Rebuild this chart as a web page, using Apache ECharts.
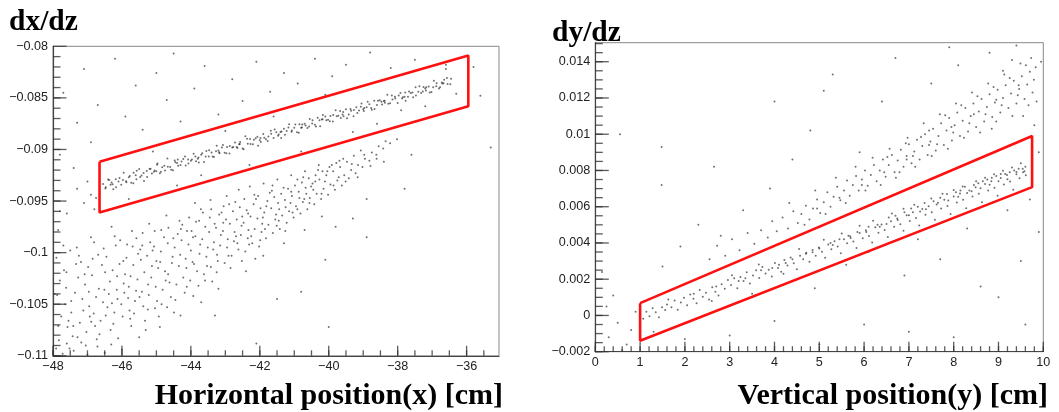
<!DOCTYPE html>
<html><head><meta charset="utf-8">
<script src="https://cdn.jsdelivr.net/npm/echarts@6/dist/echarts.min.js"></script>
<style>html,body{margin:0;padding:0;background:#fff}#c{width:1059px;height:412px}</style>
</head><body><div id="c"></div>
<script>
// ---------- tick labels ----------
const leftXTicks = [-48, -46, -44, -42, -40, -38, -36];
const leftYTicks = [-0.08, -0.085, -0.09, -0.095, -0.1, -0.105, -0.11];
const rightXTicks = [0, 1, 2, 3, 4, 5, 6, 7, 8, 9, 10];
const rightYTicks = [-0.002, 0, 0.002, 0.004, 0.006, 0.008, 0.01, 0.012, 0.014];

// ---------- selection boxes (red) ----------
const leftBox = [[-46.65, -0.0912], [-35.95, -0.0809], [-35.95, -0.0858], [-46.65, -0.0961], [-46.65, -0.0912]];
const rightBox = [[1.0, 0.00068], [9.75, 0.0099], [9.75, 0.00708], [1.0, -0.0014], [1.0, 0.00068]];

// ---------- left panel: dx/dz vs x ----------
const leftBand = [
[-46.55,-0.09335],[-46.48,-0.09378],[-46.40,-0.0929],[-46.33,-0.09343],[-46.25,-0.09385],[-46.18,-0.09288],[-46.10,-0.0931],[-46.02,-0.09342],
[-45.95,-0.09225],[-45.88,-0.09308],[-45.80,-0.0927],[-45.73,-0.09323],[-45.66,-0.09226],[-45.58,-0.09288],[-45.50,-0.0919],[-45.43,-0.09253],
[-45.36,-0.09306],[-45.28,-0.09208],[-45.20,-0.0919],[-45.13,-0.09233],[-45.05,-0.09205],[-44.98,-0.09148],[-44.90,-0.0923],[-44.83,-0.09173],
[-44.75,-0.09205],[-44.68,-0.09088],[-44.60,-0.0917],[-44.52,-0.09202],[-44.45,-0.09125],[-44.38,-0.09098],[-44.30,-0.0915],[-44.22,-0.09092],
[-44.15,-0.09155],[-44.08,-0.09098],[-44.00,-0.0911],[-43.92,-0.09042],[-43.85,-0.09115],[-43.78,-0.09078],[-43.70,-0.0905],[-43.62,-0.09122],
[-43.55,-0.09015],[-43.48,-0.09068],[-43.40,-0.0903],[-43.33,-0.09073],[-43.25,-0.08965],[-43.18,-0.09028],[-43.10,-0.0898],[-43.02,-0.09032],
[-42.95,-0.08975],[-42.88,-0.09038],[-42.80,-0.0898],[-42.72,-0.08932],[-42.65,-0.08985],[-42.58,-0.08948],[-42.50,-0.0899],[-42.42,-0.08872],
[-42.35,-0.08945],[-42.28,-0.08898],[-42.20,-0.0895],[-42.12,-0.08892],[-42.05,-0.08965],[-41.98,-0.08888],[-41.90,-0.0885],[-41.82,-0.08902],
[-41.75,-0.08875],[-41.68,-0.08818],[-41.60,-0.0889],[-41.52,-0.08832],[-41.45,-0.08855],[-41.38,-0.08888],[-41.30,-0.088],[-41.22,-0.08822],
[-41.15,-0.08755],[-41.08,-0.08828],[-41.00,-0.0879],[-40.92,-0.08832],[-40.85,-0.08755],[-40.78,-0.08788],[-40.70,-0.0875],[-40.62,-0.08792],
[-40.55,-0.08705],[-40.48,-0.08748],[-40.40,-0.0876],[-40.32,-0.08692],[-40.25,-0.08775],[-40.18,-0.08708],[-40.10,-0.0868],[-40.02,-0.08712],
[-39.95,-0.08675],[-39.88,-0.08728],[-39.80,-0.0862],[-39.72,-0.08672],[-39.65,-0.08695],[-39.58,-0.08638],[-39.50,-0.0861],[-39.42,-0.08662],
[-39.35,-0.08625],[-39.28,-0.08678],[-39.20,-0.0859],[-39.12,-0.08622],[-39.05,-0.08555],[-38.98,-0.08628],[-38.90,-0.0859],[-38.82,-0.08562],
[-38.75,-0.08615],[-38.68,-0.08528],[-38.60,-0.0857],[-38.52,-0.08522],[-38.45,-0.08565],[-38.38,-0.08528],[-38.30,-0.0847],[-38.22,-0.08552],
[-38.15,-0.08515],[-38.08,-0.08488],[-38.00,-0.0855],[-37.92,-0.08452],[-37.85,-0.08495],[-37.78,-0.08448],[-37.70,-0.0849],[-37.62,-0.08452],
[-37.55,-0.08495],[-37.48,-0.08398],[-37.40,-0.0844],[-37.32,-0.08452],[-37.25,-0.08395],[-37.18,-0.08428],[-37.10,-0.0839],[-37.02,-0.08442],
[-36.95,-0.08335],[-36.88,-0.08388],[-36.80,-0.0841],[-36.72,-0.08352],[-36.65,-0.08325],[-36.55,-0.08365],[-36.45,-0.08315]
];
const leftBand2 = [
[-46.47,-0.09367],[-46.37,-0.09297],[-46.27,-0.09337],[-46.17,-0.09367],[-46.07,-0.09277],[-45.97,-0.09297],[-45.87,-0.09317],[-45.77,-0.09257],
[-45.67,-0.09327],[-45.57,-0.09207],[-45.47,-0.09267],[-45.37,-0.09227],[-45.27,-0.09267],[-45.17,-0.09187],[-45.07,-0.09217],[-44.97,-0.09137],
[-44.87,-0.09217],[-44.77,-0.09157],[-44.67,-0.09167],[-44.57,-0.09197],[-44.47,-0.09107],[-44.37,-0.09157],[-44.27,-0.09117],[-44.17,-0.09067],
[-44.07,-0.09137],[-43.97,-0.09097],[-43.87,-0.09067],[-43.77,-0.09127],[-43.67,-0.09037],[-43.57,-0.09067],[-43.47,-0.09007],[-43.37,-0.09067],
[-43.27,-0.09017],[-43.17,-0.09037],[-43.07,-0.08957],[-42.97,-0.09037],[-42.87,-0.08967],[-42.77,-0.08977],[-42.67,-0.08977],[-42.57,-0.08927],
[-42.47,-0.08997],[-42.37,-0.08897],[-42.27,-0.08947],[-42.17,-0.08907],[-42.07,-0.08877],[-41.97,-0.08927],[-41.87,-0.08887],[-41.77,-0.08917],
[-41.67,-0.08847],[-41.57,-0.08807],[-41.47,-0.08867],[-41.37,-0.08827],[-41.27,-0.08857],[-41.17,-0.08787],[-41.07,-0.08817],[-40.97,-0.08757],
[-40.87,-0.08837],[-40.77,-0.08757],[-40.67,-0.08767],[-40.57,-0.08777],[-40.47,-0.08717],[-40.37,-0.08777],[-40.27,-0.08717],[-40.17,-0.08667],
[-40.07,-0.08717],[-39.97,-0.08727],[-39.87,-0.08667],[-39.77,-0.08677],[-39.67,-0.08627],[-39.57,-0.08677],[-39.47,-0.08697],[-39.37,-0.08607],
[-39.27,-0.08617],[-39.17,-0.08647],[-39.07,-0.08587],[-38.97,-0.08597],[-38.87,-0.08537],[-38.77,-0.08597],[-38.67,-0.08607],[-38.57,-0.08527],
[-38.47,-0.08537],[-38.37,-0.08547],[-38.27,-0.08557],[-38.17,-0.08477],[-38.07,-0.08507],[-37.97,-0.08477],[-37.87,-0.08507],[-37.77,-0.08527],
[-37.67,-0.08437],[-37.57,-0.08447],[-37.47,-0.08477],[-37.37,-0.08387],[-37.27,-0.08437],[-37.17,-0.08397],[-37.07,-0.08447],[-36.97,-0.08397],
[-36.87,-0.08357],[-36.77,-0.08397],[-36.67,-0.08357],[-36.57,-0.08307],[-36.47,-0.08367]
];
const leftBand3 = [
[-46.3,-0.0932],[-45.6,-0.0925],[-45.0,-0.0921],[-44.4,-0.0913],[-43.8,-0.0909],[-43.2,-0.0901],[-42.6,-0.0895],[-42.0,-0.0891],
[-41.4,-0.0883],[-40.8,-0.0879],[-40.2,-0.0871],[-39.6,-0.0866],[-39.0,-0.0861],[-38.4,-0.0853],[-37.8,-0.0849],[-37.2,-0.0841],[-36.7,-0.0836]
];
const leftLower = [
[-47.83,-0.1085],[-47.76,-0.1062],[-47.88,-0.1041],[-47.72,-0.1098],[-47.80,-0.1027],
[-47.58,-0.1072],[-47.65,-0.1050],[-47.52,-0.1093],[-47.61,-0.1019],[-47.55,-0.1066],
[-47.43,-0.1081],[-47.36,-0.1039],[-47.47,-0.1058],[-47.33,-0.1011],[-47.40,-0.1095],
[-47.22,-0.1068],[-47.15,-0.1045],[-47.27,-0.1024],[-47.18,-0.1087],[-47.25,-0.1003],[-47.12,-0.1056],
[-47.03,-0.1077],[-46.95,-0.1052],[-47.07,-0.1031],[-46.98,-0.1014],[-47.05,-0.1090],[-46.93,-0.1062],
[-46.82,-0.1059],[-46.75,-0.1043],[-46.87,-0.1022],[-46.78,-0.1071],[-46.85,-0.1006],[-46.73,-0.1084],
[-46.62,-0.1066],[-46.55,-0.1048],[-46.67,-0.1035],[-46.58,-0.1012],[-46.65,-0.1079],[-46.53,-0.0996],
[-46.42,-0.1053],[-46.35,-0.1028],[-46.47,-0.1061],[-46.38,-0.1040],[-46.45,-0.1004],[-46.33,-0.1075],
[-46.22,-0.1058],[-46.15,-0.1036],[-46.27,-0.1017],[-46.18,-0.0993],[-46.25,-0.1069],[-46.13,-0.1045],
[-46.02,-0.1050],[-45.95,-0.1030],[-46.07,-0.1011],[-45.98,-0.1062],[-46.05,-0.0988],[-45.93,-0.1039],
[-45.82,-0.1044],[-45.75,-0.1023],[-45.87,-0.1005],[-45.78,-0.1056],[-45.85,-0.0992],[-45.73,-0.1071],[-45.80,-0.1033],
[-45.62,-0.1047],[-45.55,-0.1026],[-45.67,-0.1012],[-45.58,-0.0986],[-45.65,-0.1059],[-45.53,-0.1001],
[-45.42,-0.1038],[-45.35,-0.1019],[-45.47,-0.0997],[-45.38,-0.1052],[-45.45,-0.1007],[-45.33,-0.1066],[-45.40,-0.0981],
[-45.22,-0.1041],[-45.15,-0.1024],[-45.27,-0.1003],[-45.18,-0.0990],[-45.25,-0.1055],[-45.13,-0.1013],
[-45.02,-0.1033],[-44.95,-0.1015],[-45.07,-0.0994],[-44.98,-0.1047],[-45.05,-0.0979],[-44.93,-0.1062],[-45.00,-0.1008],
[-44.82,-0.1036],[-44.75,-0.1018],[-44.87,-0.0999],[-44.78,-0.0985],[-44.85,-0.1050],[-44.73,-0.1027],
[-44.62,-0.1029],[-44.55,-0.1010],[-44.67,-0.0991],[-44.58,-0.1043],[-44.65,-0.0976],[-44.53,-0.1004],
[-44.42,-0.1031],[-44.35,-0.1013],[-44.47,-0.0995],[-44.38,-0.0982],[-44.45,-0.1046],[-44.33,-0.0969],
[-44.22,-0.1024],[-44.15,-0.1006],[-44.27,-0.0988],[-44.18,-0.1039],[-44.25,-0.0973],[-44.13,-0.1015],
[-44.02,-0.1027],[-43.95,-0.1009],[-44.07,-0.0992],[-43.98,-0.0979],[-44.05,-0.0966],[-43.93,-0.1042],[-44.00,-0.0998],
[-43.82,-0.1018],[-43.75,-0.1001],[-43.87,-0.0984],[-43.78,-0.1032],[-43.85,-0.0970],[-43.73,-0.0992],
[-43.62,-0.1021],[-43.55,-0.1004],[-43.67,-0.0987],[-43.58,-0.0975],[-43.65,-0.0961],[-43.53,-0.1013],
[-43.42,-0.1014],[-43.35,-0.0997],[-43.47,-0.0980],[-43.38,-0.1028],[-43.45,-0.0966],[-43.33,-0.0990],
[-43.22,-0.1008],[-43.15,-0.0993],[-43.27,-0.0976],[-43.18,-0.0963],[-43.25,-0.1019],[-43.13,-0.0983],
[-43.02,-0.1010],[-42.95,-0.0995],[-43.07,-0.0979],[-42.98,-0.0968],[-43.05,-0.0955],[-42.93,-0.0987],
[-42.82,-0.1003],[-42.75,-0.0989],[-42.87,-0.0972],[-42.78,-0.0960],[-42.85,-0.1015],[-42.73,-0.0980],
[-42.62,-0.0997],[-42.55,-0.0983],[-42.67,-0.0968],[-42.58,-0.0956],[-42.65,-0.0991],[-42.53,-0.0974],
[-42.42,-0.0999],[-42.35,-0.0986],[-42.47,-0.0971],[-42.38,-0.0959],[-42.45,-0.0948],[-42.33,-0.0978],
[-42.22,-0.0991],[-42.15,-0.0977],[-42.27,-0.0965],[-42.18,-0.0953],[-42.25,-0.0984],[-42.13,-0.1006],
[-42.02,-0.0994],[-41.95,-0.0980],[-42.07,-0.0967],[-41.98,-0.0957],[-42.05,-0.0945],[-41.93,-0.0972],
[-41.82,-0.0986],[-41.75,-0.0973],[-41.87,-0.0961],[-41.78,-0.0950],[-41.85,-0.0977],
[-41.62,-0.0981],[-41.55,-0.0968],[-41.67,-0.0957],[-41.58,-0.0946],[-41.65,-0.0940],[-41.53,-0.0963],
[-41.42,-0.0977],[-41.35,-0.0964],[-41.47,-0.0952],[-41.38,-0.0943],[-41.45,-0.0969],
[-41.22,-0.0971],[-41.15,-0.0960],[-41.27,-0.0949],[-41.18,-0.0938],[-41.25,-0.0956],
[-41.02,-0.0966],[-40.95,-0.0955],[-41.07,-0.0945],[-40.98,-0.0935],[-41.05,-0.0961],
[-40.82,-0.0962],[-40.75,-0.0951],[-40.87,-0.0941],[-40.78,-0.0932],[-40.85,-0.0947],
[-40.62,-0.0958],[-40.55,-0.0947],[-40.67,-0.0937],[-40.58,-0.0928],[-40.65,-0.0943],
[-40.42,-0.0953],[-40.35,-0.0943],[-40.47,-0.0933],[-40.38,-0.0925],[-40.45,-0.0939],
[-40.22,-0.0948],[-40.15,-0.0938],[-40.27,-0.0929],[-40.18,-0.0921],
[-40.02,-0.0944],[-39.95,-0.0934],[-40.07,-0.0925],[-39.98,-0.0917],
[-39.82,-0.0939],[-39.75,-0.0930],[-39.87,-0.0921],[-39.78,-0.0913],
[-39.62,-0.0935],[-39.55,-0.0925],[-39.67,-0.0917],[-39.58,-0.0909],
[-39.42,-0.0928],[-39.35,-0.0920],[-39.47,-0.0912],
[-39.22,-0.0923],[-39.15,-0.0915],[-39.27,-0.0906],
[-39.02,-0.0917],[-38.95,-0.0909],[-39.07,-0.0901],
[-38.82,-0.0911],[-38.75,-0.0903],[-38.62,-0.0905],[-38.55,-0.0897],
[-38.42,-0.0899],[-38.35,-0.0892],[-38.22,-0.0894],[-38.02,-0.0890]
];
const leftLower2 = [
[-47.62,-0.1034],[-47.41,-0.1071],[-47.19,-0.1009],[-46.96,-0.1038],[-46.71,-0.1091],[-46.49,-0.1019],[-46.29,-0.1049],[-46.11,-0.1083],
[-45.91,-0.1021],[-45.69,-0.0994],[-45.49,-0.1043],[-45.31,-0.1075],[-45.11,-0.0998],[-44.89,-0.1009],[-44.69,-0.1053],[-44.51,-0.0986],
[-44.31,-0.1002],[-44.11,-0.0979],[-43.91,-0.1011],[-43.71,-0.0958],[-43.51,-0.0995],[-43.31,-0.0972],[-43.11,-0.0961],[-42.91,-0.1003],
[-42.71,-0.0951],[-42.51,-0.0965],[-42.31,-0.0992],[-42.11,-0.0948],[-41.91,-0.0966],[-41.71,-0.0942],[-41.51,-0.0974],[-41.31,-0.0937],
[-41.11,-0.0952],[-40.91,-0.0929],[-40.71,-0.0948],[-40.51,-0.0936],[-40.31,-0.0920],[-40.11,-0.0931],[-39.91,-0.0915],[-39.71,-0.0927],
[-43.88,-0.0952],[-43.43,-0.0949],[-42.96,-0.0945],[-42.61,-0.0939],[-42.29,-0.0936],[-41.89,-0.0933],[-41.49,-0.0929],[-41.09,-0.0925],
[-40.69,-0.0921],[-40.29,-0.0915],[-44.71,-0.0964],[-45.21,-0.0972],[-45.71,-0.0979],[-46.21,-0.0984],[-46.81,-0.0990],[-47.31,-0.0995],
[-43.2,-0.1035],[-43.7,-0.1048],[-44.3,-0.1061],[-44.9,-0.1072],[-45.5,-0.1082],[-46.0,-0.1094],[-46.5,-0.1097],[-47.0,-0.1099],
[-47.6,-0.1088],[-42.4,-0.1018],[-41.9,-0.1003],[-41.3,-0.0991],[-40.7,-0.0978],[-40.2,-0.0965]
];
const leftLower3 = [
[-47.91,-0.1093],[-47.68,-0.1017],[-47.47,-0.1047],[-47.29,-0.1082],[-47.08,-0.1021],[-46.89,-0.1067],[-46.69,-0.1002],[-46.51,-0.1036],
[-46.31,-0.1089],[-46.14,-0.1023],[-45.96,-0.1008],[-45.76,-0.1064],[-45.59,-0.1037],[-45.41,-0.0993],[-45.24,-0.1031],[-45.04,-0.1054],
[-44.86,-0.0978],[-44.66,-0.1021],[-44.49,-0.1058],[-44.29,-0.0977],[-44.12,-0.1033],[-43.94,-0.0985],[-43.76,-0.0969],[-43.59,-0.1027],
[-43.41,-0.0958],[-43.24,-0.1002],[-43.06,-0.0971],[-42.89,-0.0953],[-42.69,-0.0984],[-42.52,-0.1008],[-42.34,-0.0962],[-42.16,-0.0944],
[-41.99,-0.0988],[-41.81,-0.0955],[-41.63,-0.0935],[-41.44,-0.0958],[-41.26,-0.0979],[-41.09,-0.0941],[-40.91,-0.0958],[-40.74,-0.0927],
[-40.56,-0.0952],[-40.39,-0.0931],[-40.21,-0.0943],[-40.04,-0.0921],[-39.86,-0.0935],[-39.69,-0.0911],[-39.51,-0.0931],[-39.33,-0.0914],
[-39.16,-0.0927],[-38.97,-0.0905],[-38.79,-0.0916],[-38.61,-0.0909]
];
const leftScatter = [
[-47.7,-0.0845],[-47.3,-0.0874],[-47.1,-0.0822],[-46.9,-0.0893],[-46.7,-0.0857],[-46.2,-0.0812],[-45.9,-0.0868],[-45.6,-0.0838],
[-45.4,-0.0881],[-45.0,-0.0826],[-44.7,-0.0852],[-44.5,-0.0807],[-44.3,-0.0873],[-43.9,-0.0841],[-43.6,-0.0819],[-43.2,-0.0866],
[-42.8,-0.0832],[-42.5,-0.0853],[-42.1,-0.0815],[-41.7,-0.0844],[-41.3,-0.0826],[-40.9,-0.0836],[-40.4,-0.0812],[-39.9,-0.0829],
[-39.5,-0.0818],[-38.8,-0.0806],[-38.2,-0.0821],[-37.5,-0.0813],[-36.6,-0.0818],[-35.6,-0.0848],[-35.8,-0.0820],
[-47.3,-0.0938],[-47.1,-0.0952],[-46.9,-0.0944],[-46.8,-0.0958],[-47.0,-0.0931],[-47.6,-0.0962],[-46.75,-0.0947],[-47.4,-0.0918],
[-47.8,-0.0905],[-47.85,-0.0978],[-47.7,-0.0993],
[-45.8,-0.0948],[-45.1,-0.0902],[-44.4,-0.0935],[-43.7,-0.0925],[-43.0,-0.0882],[-42.3,-0.0915],[-41.6,-0.0868],[-40.8,-0.0902],
[-40.1,-0.0847],[-39.3,-0.0883],[-38.6,-0.0875],[-37.9,-0.0862],[-37.2,-0.0858],[-36.6,-0.0822],[-36.3,-0.0846],
[-37.8,-0.0938],[-39.3,-0.0967],[-38.9,-0.0985],[-40.1,-0.1007],[-40.8,-0.1038],[-40.0,-0.1072],[-41.5,-0.1045],[-42.1,-0.1088],
[-43.3,-0.1061],[-35.3,-0.0898],[-47.9,-0.1005],[-47.95,-0.1040],[-47.85,-0.1071],[-47.5,-0.0998],[-46.9,-0.0985],[-46.3,-0.0975],
[-47.8,-0.0960],[-38.4,-0.0912],[-37.6,-0.0905],[-38.9,-0.0948],[-39.8,-0.0975]
];

// ---------- right panel: dy/dz vs y ----------
const rightBand = [
[1.00,0.00010],[1.07,-0.00018],[1.14,0.00020],[1.21,-0.00005],[1.28,0.00040],[1.35,0.00018],[1.42,-0.00010],[1.49,0.00045],
[1.56,0.00030],[1.63,0.00088],[1.70,0.00045],[1.77,0.00082],[1.84,0.00032],[1.91,0.00071],[1.98,0.00098],[2.05,0.00056],
[2.12,0.00115],[2.19,0.00092],[2.26,0.00068],[2.33,0.00140],[2.40,0.00103],[2.47,0.00125],[2.54,0.00088],[2.61,0.00156],
[2.68,0.00131],[2.75,0.00110],[2.82,0.00172],[2.89,0.00148],[2.96,0.00195],[3.03,0.00168],[3.10,0.00205],[3.17,0.00150],
[3.24,0.00212],[3.31,0.00190],[3.38,0.00238],[3.45,0.00176],[3.52,0.00221],[3.59,0.00249],[3.66,0.00207],[3.73,0.00268],
[3.80,0.00231],[3.87,0.00252],[3.94,0.00215],[4.01,0.00290],[4.08,0.00262],[4.15,0.00241],[4.22,0.00306],[4.29,0.00275],
[4.36,0.00320],[4.43,0.00288],[4.50,0.00255],[4.57,0.00329],[4.64,0.00310],[4.71,0.00346],[4.78,0.00297],[4.85,0.00361],
[4.92,0.00330],[4.99,0.00375],[5.06,0.00352],[5.13,0.00318],[5.20,0.00392],[5.27,0.00365],[5.34,0.00410],[5.41,0.00381],
[5.48,0.00343],[5.55,0.00420],[5.62,0.00399],[5.69,0.00437],[5.76,0.00408],[5.83,0.00372],[5.90,0.00455],[5.97,0.00426],
[6.04,0.00470],[6.11,0.00438],[6.18,0.00402],[6.25,0.00487],[6.32,0.00456],[6.39,0.00502],[6.46,0.00472],[6.53,0.00433],
[6.60,0.00520],[6.67,0.00490],[6.74,0.00535],[6.81,0.00503],[6.88,0.00468],[6.95,0.00553],[7.02,0.00521],[7.09,0.00569],
[7.16,0.00538],[7.23,0.00497],[7.30,0.00588],[7.37,0.00556],[7.44,0.00603],[7.51,0.00570],[7.58,0.00528],[7.65,0.00622],
[7.72,0.00590],[7.79,0.00638],[7.86,0.00604],[7.93,0.00560],[8.00,0.00657],[8.07,0.00623],[8.14,0.00673],[8.21,0.00638],
[8.28,0.00592],[8.35,0.00690],[8.42,0.00657],[8.49,0.00707],[8.56,0.00671],[8.63,0.00625],[8.70,0.00725],[8.77,0.00690],
[8.84,0.00740],[8.91,0.00705],[8.98,0.00660],[9.05,0.00758],[9.12,0.00722],[9.19,0.00775],[9.26,0.00739],[9.33,0.00693],
[9.40,0.00792],[9.47,0.00757],[9.54,0.00810],[9.61,0.00774]
];
const rightBand2 = [
[3.05,0.00222],[3.35,0.00205],[3.65,0.00281],[3.95,0.00262],[4.25,0.00290],[4.55,0.00367],[4.85,0.00349],[5.10,0.00418],
[5.30,0.00389],[5.50,0.00452],[5.70,0.00428],[5.90,0.00495],[6.05,0.00461],[6.20,0.00522],[6.35,0.00489],[6.50,0.00505],
[6.62,0.00562],[6.75,0.00527],[6.88,0.00589],[7.00,0.00553],[7.12,0.00611],[7.25,0.00574],[7.38,0.00586],[7.50,0.00645],
[7.62,0.00612],[7.75,0.00671],[7.88,0.00634],[8.00,0.00692],[8.10,0.00655],[8.20,0.00712],[8.30,0.00676],[8.40,0.00685],
[8.50,0.00741],[8.60,0.00702],[8.70,0.00760],[8.80,0.00721],[8.90,0.00779],[9.00,0.00740],[9.10,0.00798],[9.20,0.00752],
[9.30,0.00816],[9.40,0.00779],[9.50,0.00840],[9.58,0.00795]
];
const rightBand3 = [
[1.6,0.0006],[2.2,0.0012],[2.7,0.0016],[3.2,0.0019],[3.7,0.0025],[4.1,0.0028],[4.4,0.0031],[4.7,0.0034],[5.0,0.0037],[5.25,0.0040],
[5.45,0.0042],[5.65,0.0044],[5.85,0.0046],[6.1,0.0049],[6.3,0.0050],[6.55,0.0054],[6.7,0.0055],[6.9,0.0057],[7.05,0.0059],[7.2,0.0060],
[7.35,0.0062],[7.55,0.0063],[7.7,0.0065],[7.85,0.0067],[8.05,0.0068],[8.15,0.0069],[8.25,0.0071],[8.45,0.0072],[8.55,0.0073],[8.65,0.0074],
[8.75,0.0075],[8.85,0.0076],[8.95,0.0077],[9.05,0.0078],[9.15,0.0078],[9.25,0.0079],[9.35,0.0080],[9.45,0.0081],[9.55,0.0079],[9.6,0.0082]
];
const rightUpper = [
[2.55,0.00310],[2.72,0.00385],[2.90,0.00330],[3.05,0.00420],[3.22,0.00360],[3.40,0.00455],[3.55,0.00395],[3.70,0.00470],
[3.85,0.00430],[3.95,0.00520],[4.05,0.00465],[4.18,0.00540],[4.30,0.00480],[4.42,0.00575],[4.52,0.00510],[4.60,0.00560],
[4.70,0.00605],[4.78,0.00530],[4.86,0.00590],[4.95,0.00640],[5.02,0.00565],[5.10,0.00625],[5.18,0.00680],[5.25,0.00600],
[5.32,0.00655],[5.40,0.00710],[5.47,0.00635],[5.55,0.00690],[5.62,0.00745],[5.68,0.00660],[5.75,0.00720],[5.82,0.00770],
[5.88,0.00690],[5.95,0.00750],[6.02,0.00800],[6.08,0.00715],[6.15,0.00775],[6.22,0.00830],[6.28,0.00740],[6.35,0.00800],
[6.42,0.00860],[6.48,0.00765],[6.55,0.00830],[6.62,0.00885],[6.68,0.00790],[6.75,0.00855],[6.82,0.00915],[6.88,0.00820],
[6.95,0.00880],[7.00,0.00945],[7.06,0.00840],[7.12,0.00905],[7.18,0.00970],[7.24,0.00860],[7.30,0.00935],[7.36,0.01000],
[7.42,0.00885],[7.48,0.00960],[7.54,0.01030],[7.60,0.00910],[7.66,0.00990],[7.72,0.01060],[7.78,0.00940],[7.84,0.01020],
[7.90,0.01090],[7.96,0.00965],[8.02,0.01050],[8.08,0.01120],[8.14,0.00990],[8.20,0.01075],[8.26,0.01145],[8.32,0.01015],
[8.38,0.01100],[8.44,0.01170],[8.50,0.01040],[8.56,0.01125],[8.62,0.01195],[8.68,0.01070],[8.74,0.01150],[8.80,0.01220],
[8.86,0.01095],[8.92,0.01175],[8.98,0.01245],[9.04,0.01120],[9.10,0.01200],[9.16,0.01270],[9.22,0.01145],[9.28,0.01225],
[9.34,0.01295],[9.40,0.01170],[9.46,0.01250],[9.52,0.01320],[9.58,0.01195],[9.64,0.01275],[9.70,0.01345],[9.76,0.01230]
];
const rightUpper2 = [
[6.52,0.00875],[6.71,0.00760],[6.93,0.00950],[7.09,0.00880],[7.27,0.00985],[7.45,0.01020],[7.63,0.00945],[7.81,0.01105],
[7.99,0.01010],[8.17,0.01160],[8.35,0.01060],[8.53,0.01210],[8.71,0.01110],[8.89,0.01260],[9.07,0.01160],[9.25,0.01310],
[9.43,0.01215],[9.61,0.01380],[9.79,0.01300],[9.30,0.01410],[9.10,0.01350],[8.85,0.01030],[9.55,0.01100],
[4.33,0.00620],[4.67,0.00500],[4.91,0.00690],[5.14,0.00560],[5.37,0.00760],[5.59,0.00620],[5.81,0.00820],[6.03,0.00690],
[6.19,0.00870],[6.37,0.00720],[6.57,0.00920],[6.79,0.00790],[6.97,0.00980],[7.14,0.00820],[7.33,0.01060],[7.51,0.00880],
[7.69,0.01110],[7.87,0.00920],[8.05,0.01170],[8.23,0.00980],[8.41,0.01230],[8.59,0.01010],[8.77,0.01280],[8.95,0.01070],
[9.13,0.01330],[9.31,0.01100],[9.49,0.01390],[9.67,0.01160],[9.73,0.01420],[9.83,0.01370],[7.95,0.01040],[8.45,0.01110],
[8.95,0.01190],[9.45,0.01270],[7.45,0.00940],[6.95,0.00860],[6.45,0.00790],[5.95,0.00720],[5.45,0.00650],[4.95,0.00590]
];
const rightScatter = [
[0.30,-0.0012],[0.50,-0.0004],[0.70,-0.0016],[0.25,0.0005],[0.80,-0.0008],[0.90,0.0002],[0.60,-0.0019],[0.40,0.0011],
[1.50,0.0027],[1.90,0.0038],[2.30,0.0050],[2.60,0.0008],[2.00,-0.0013],[1.30,-0.0009],[2.80,0.0044],[3.30,0.0058],
[3.50,0.0012],[3.90,0.0070],[4.20,0.0023],[4.40,0.0086],[4.80,0.0102],[4.90,0.0015],[5.10,0.0124],[5.60,0.0028],
[5.90,0.0090],[6.10,0.0035],[6.40,0.0118],[6.70,0.0142],[6.90,0.0022],[7.20,0.0042],[7.50,0.0128],[7.70,0.0031],
[8.10,0.0138],[8.30,0.0048],[8.60,0.0016],[8.80,0.0145],[9.00,0.0010],[9.20,0.0058],[9.50,0.0030],[9.70,0.0064],
[9.90,0.0090],[9.85,0.0118],[9.90,0.0046],[9.60,-0.0005],[8.00,-0.0012],[7.00,-0.0009],[6.00,-0.0005],[5.00,-0.0016],
[4.00,-0.0003],[3.00,-0.0011],[0.15,0.0024],[0.55,0.0100],[1.48,0.0093],[2.65,0.0082],[1.48,0.0072],[4.00,0.0118],
[5.30,0.0133],[7.90,0.0148],[9.40,0.0149],[9.95,0.0140],[9.80,0.0105]
];

// ---------- axis extents ----------
const L = { xMin: -48, xMax: -35.06, yMin: -0.11, yMax: -0.08 };
const R = { xMin: 0, xMax: 10, yMin: -0.002, yMax: 0.01505 };

// ---------- helpers ----------
function labeler(list) {
  return function (v) {
    for (const t of list) if (Math.abs(t - v) < 1e-9) return String(t).replace('-', '\u2212');
    return '';
  };
}
function stepList(min, max, step) {
  const out = [];
  const n = Math.floor((max - min) / step + 1e-6);
  for (let i = 0; i <= n; i++) out.push(+(min + i * step).toFixed(7));
  return out;
}
const labelStyle = { fontFamily: '"Liberation Sans", Arial, sans-serif', fontSize: 12.6, color: '#222' };

function axisDef(gi, min, max, interval, labels, margin) {
  return { type: 'value', gridIndex: gi, min: min, max: max, interval: interval,
    axisLine: { show: true, onZero: false, lineStyle: { color: '#444', width: 1.2 } },
    axisTick: { show: false },
    axisLabel: Object.assign({ show: true, formatter: labeler(labels), margin: margin }, labelStyle),
    splitLine: { show: false } };
}

// tick marks: thin rectangles placed on the axis through the library's scales
function tickSeries(values, gi, axisDim, ext, len) {
  const data = values.map(v => axisDim === 'x' ? [v, ext.yMin] : [ext.xMin, v]);
  return {
    type: 'scatter', xAxisIndex: gi, yAxisIndex: gi, data: data, silent: true, clip: false, z: 4,
    symbol: 'rect',
    symbolSize: axisDim === 'x' ? [1.3, len] : [len, 1.3],
    symbolOffset: axisDim === 'x' ? [0, -len / 2] : [len / 2, 0],
    itemStyle: { color: '#333' }
  };
}

function dots(data, gi) {
  return { type: 'scatter', data: data, xAxisIndex: gi, yAxisIndex: gi, symbol: 'circle', symbolSize: 2,
    itemStyle: { color: 'rgba(0,0,0,0.7)' }, silent: true, z: 2 };
}
function box(data, gi) {
  return { type: 'line', data: data, xAxisIndex: gi, yAxisIndex: gi, symbol: 'none', silent: true,
    lineStyle: { color: '#ff1010', width: 2.6 }, z: 5 };
}

const titleFont = 'bold 29.5px "Liberation Serif", "Times New Roman", serif';
const axisTitleFont = 'bold 30px "Liberation Serif", "Times New Roman", serif';

const chart = echarts.init(document.getElementById('c'));
chart.setOption({
  animation: false,
  backgroundColor: '#fff',
  grid: [
    { left: 53, top: 46.3, width: 446, height: 309.5, show: true, borderColor: '#888' },
    { left: 595.3, top: 42.7, width: 448, height: 309, show: true, borderColor: '#888' }
  ],
  xAxis: [
    axisDef(0, L.xMin, L.xMax, 2, leftXTicks, 4),
    axisDef(1, R.xMin, R.xMax, 1, rightXTicks, 4)
  ],
  yAxis: [
    axisDef(0, L.yMin, L.yMax, 0.005, leftYTicks, 5),
    axisDef(1, R.yMin, R.yMax, 0.002, rightYTicks, 5)
  ],
  graphic: [
    { type: 'text', x: 9, y: 22.5, style: { text: 'dx/dz', font: titleFont, fill: '#000', textAlign: 'left', textVerticalAlign: 'middle' } },
    { type: 'text', x: 552, y: 33, style: { text: 'dy/dz', font: titleFont, fill: '#000', textAlign: 'left', textVerticalAlign: 'middle' } },
    { type: 'text', x: 503, y: 396.5, style: { text: 'Horizontal position(x) [cm]', font: axisTitleFont, fill: '#000', textAlign: 'right', textVerticalAlign: 'middle' } },
    { type: 'text', x: 1048, y: 396.5, style: { text: 'Vertical position(y) [cm]', font: axisTitleFont, fill: '#000', textAlign: 'right', textVerticalAlign: 'middle' } }
  ],
  series: [
    dots(leftBand, 0), dots(leftBand2, 0), dots(leftBand3, 0), dots(leftLower, 0), dots(leftLower2, 0), dots(leftLower3, 0), dots(leftScatter, 0),
    box(leftBox, 0),
    tickSeries(leftXTicks, 0, 'x', L, 10),
    tickSeries(stepList(-48, -35.5, 0.5), 0, 'x', L, 5.5),
    tickSeries(leftYTicks, 0, 'y', L, 13.5),
    tickSeries(stepList(-0.11, -0.081, 0.001), 0, 'y', L, 7.5),
    dots(rightBand, 1), dots(rightBand2, 1), dots(rightBand3, 1), dots(rightUpper, 1), dots(rightUpper2, 1), dots(rightScatter, 1),
    box(rightBox, 1),
    tickSeries(rightXTicks, 1, 'x', R, 10),
    tickSeries(stepList(0, 10, 0.2), 1, 'x', R, 5.5),
    tickSeries(rightYTicks, 1, 'y', R, 13.5),
    tickSeries(stepList(-0.002, 0.015, 0.0005), 1, 'y', R, 7.5)
  ]
});
</script>
</body></html>
